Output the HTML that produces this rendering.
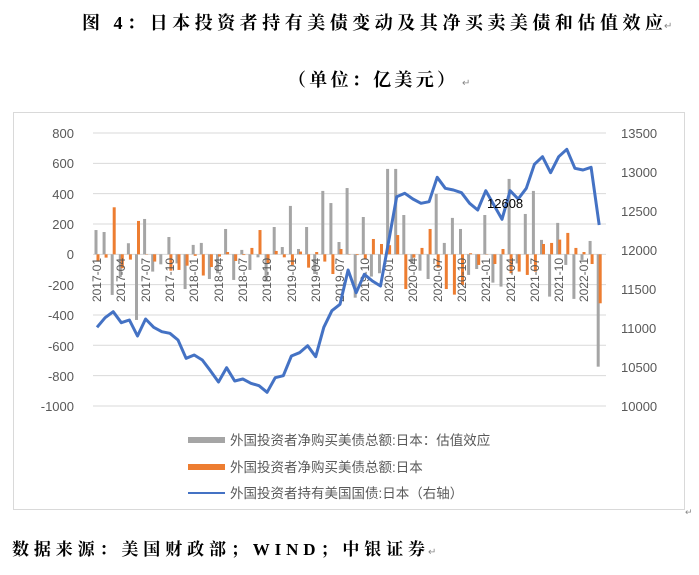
<!DOCTYPE html>
<html><head><meta charset="utf-8"><style>
body{margin:0;background:#fff;width:699px;height:575px;overflow:hidden;}
svg{display:block}
</style></head><body>
<svg id="s" width="699" height="575" xmlns="http://www.w3.org/2000/svg" font-family="Liberation Sans, Noto Sans CJK SC, sans-serif">
<text x="82" y="29" font-family="Liberation Serif, Noto Serif CJK SC, serif" font-weight="bold" font-size="18" fill="#000" textLength="581" lengthAdjust="spacing">图 4：日本投资者持有美债变动及其净买卖美债和估值效应</text>
<text x="664" y="29" font-size="10" fill="#888">↵</text>
<text x="288" y="86" font-family="Liberation Serif, Noto Serif CJK SC, serif" font-weight="bold" font-size="18" fill="#000" textLength="167" lengthAdjust="spacing">（单位：亿美元）</text>
<text x="462" y="86" font-size="10" fill="#888">↵</text>
<rect x="13.5" y="112.5" width="671" height="397" fill="none" stroke="#d9d9d9"/>
<g id="grid" stroke="#d9d9d9" stroke-width="1"></g>
<g font-size="13" fill="#595959" text-anchor="end">
<text x="74" y="138">800</text><text x="74" y="168">600</text><text x="74" y="199">400</text><text x="74" y="229">200</text><text x="74" y="259">0</text><text x="74" y="290">-200</text><text x="74" y="320">-400</text><text x="74" y="351">-600</text><text x="74" y="381">-800</text><text x="74" y="411">-1000</text>
</g>
<g font-size="13" fill="#595959">
<text x="621" y="138">13500</text><text x="621" y="177">13000</text><text x="621" y="216">12500</text><text x="621" y="255">12000</text><text x="621" y="294">11500</text><text x="621" y="333">11000</text><text x="621" y="372">10500</text><text x="621" y="411">10000</text>
</g>
<g id="bars"></g>
<g id="xl" font-size="12" fill="#595959">
<text transform="translate(101,258) rotate(-90)" text-anchor="end">2017-01</text>
<text transform="translate(125,258) rotate(-90)" text-anchor="end">2017-04</text>
<text transform="translate(150,258) rotate(-90)" text-anchor="end">2017-07</text>
<text transform="translate(174,258) rotate(-90)" text-anchor="end">2017-10</text>
<text transform="translate(198,258) rotate(-90)" text-anchor="end">2018-01</text>
<text transform="translate(223,258) rotate(-90)" text-anchor="end">2018-04</text>
<text transform="translate(247,258) rotate(-90)" text-anchor="end">2018-07</text>
<text transform="translate(271,258) rotate(-90)" text-anchor="end">2018-10</text>
<text transform="translate(296,258) rotate(-90)" text-anchor="end">2019-01</text>
<text transform="translate(320,258) rotate(-90)" text-anchor="end">2019-04</text>
<text transform="translate(344,258) rotate(-90)" text-anchor="end">2019-07</text>
<text transform="translate(369,258) rotate(-90)" text-anchor="end">2019-10</text>
<text transform="translate(393,258) rotate(-90)" text-anchor="end">2020-01</text>
<text transform="translate(417,258) rotate(-90)" text-anchor="end">2020-04</text>
<text transform="translate(442,258) rotate(-90)" text-anchor="end">2020-07</text>
<text transform="translate(466,258) rotate(-90)" text-anchor="end">2020-10</text>
<text transform="translate(490,258) rotate(-90)" text-anchor="end">2021-01</text>
<text transform="translate(515,258) rotate(-90)" text-anchor="end">2021-04</text>
<text transform="translate(539,258) rotate(-90)" text-anchor="end">2021-07</text>
<text transform="translate(563,258) rotate(-90)" text-anchor="end">2021-10</text>
<text transform="translate(588,258) rotate(-90)" text-anchor="end">2022-01</text>
</g>
<polyline id="ln" fill="none" stroke="#4472c4" stroke-width="3" stroke-linejoin="round"/>
<text x="487" y="208" font-size="13" fill="#000">12608</text>
<rect x="188" y="437" width="37" height="6" fill="#a5a5a5"/>
<rect x="188" y="464" width="37" height="6" fill="#ed7d31"/>
<line x1="188" y1="493" x2="225" y2="493" stroke="#4472c4" stroke-width="2"/>
<g font-size="13.5" fill="#595959">
<text x="230" y="445">外国投资者净购买美债总额:日本：估值效应</text>
<text x="230" y="472">外国投资者净购买美债总额:日本</text>
<text x="230" y="498">外国投资者持有美国国债:日本（右轴）</text>
</g>
<text x="685" y="515" font-size="9" fill="#888">↵</text>
<text x="12" y="555" font-family="Liberation Serif, Noto Serif CJK SC, serif" font-weight="bold" font-size="17" fill="#000" textLength="413" lengthAdjust="spacing">数据来源：美国财政部；WIND；中银证券</text>
<text x="428" y="555" font-size="10" fill="#888">↵</text>
</svg>
<script>
var g=document.getElementById('grid'),b=document.getElementById('bars');
var ns='http://www.w3.org/2000/svg';
for(var k=0;k<10;k++){var y=133+k*30.33;var l=document.createElementNS(ns,'line');l.setAttribute('x1',93);l.setAttribute('x2',606);l.setAttribute('y1',y);l.setAttribute('y2',y);g.appendChild(l);}
var gray=[160,147,-268,-150,73,-433,233,-114,-66,114,-60,-229,62,75,-163,-125,167,-169,29,-103,-20,-180,180,48,319,35,180,-130,418,338,81,437,-286,246,-147,-125,563,563,259,-64,-108,-163,398,75,240,167,-136,-97,259,-187,-213,497,-60,266,418,95,-279,207,-70,-294,-37,88,-741];
var or=[-48,-22,310,-92,-35,220,-2,-48,0,-108,-103,-75,-10,-140,-84,-15,15,-44,-5,42,160,-59,22,-20,-70,18,-88,15,-48,-130,35,-2,-5,-31,101,68,60,127,-229,-22,42,167,-88,-229,-266,-202,7,-70,-2,-64,35,-125,-114,-136,-114,68,75,97,141,42,15,-64,-323];
function Y(v){return 254.3-v*30.33/200;}
function bar(x,v,c){var r=document.createElementNS(ns,'rect');var y0=Y(0),y1=Y(v);r.setAttribute('x',x);r.setAttribute('width',3);r.setAttribute('y',Math.min(y0,y1));r.setAttribute('height',Math.abs(y1-y0));r.setAttribute('fill',c);b.appendChild(r);}
for(var i=0;i<63;i++){var cx=97+i*8.1;bar(cx-2.5,gray[i],'#a5a5a5');bar(cx-0.5,or[i],'#ed7d31');}
var ly=[327.3,317.7,311.7,322.7,320,336,319,327.3,331.7,333.3,340,358.3,355,360,370.7,382,367.7,381,379,383.3,385.7,392.3,377.7,375.7,356,352.7,345.7,356.7,327.3,310.7,304.3,270,292.7,274.3,281,286,241.7,196.7,193.3,199,203.3,201.7,177.3,188.3,190,192.7,203.3,210,190.7,205,219.3,190.7,199,188.3,164.3,156.7,172.7,156.7,149.3,168.3,170,167.3,225];
var p=[];for(var i=0;i<63;i++)p.push((97+i*8.1).toFixed(1)+','+ly[i]);
document.getElementById('ln').setAttribute('points',p.join(' '));
</script>
</body></html>
